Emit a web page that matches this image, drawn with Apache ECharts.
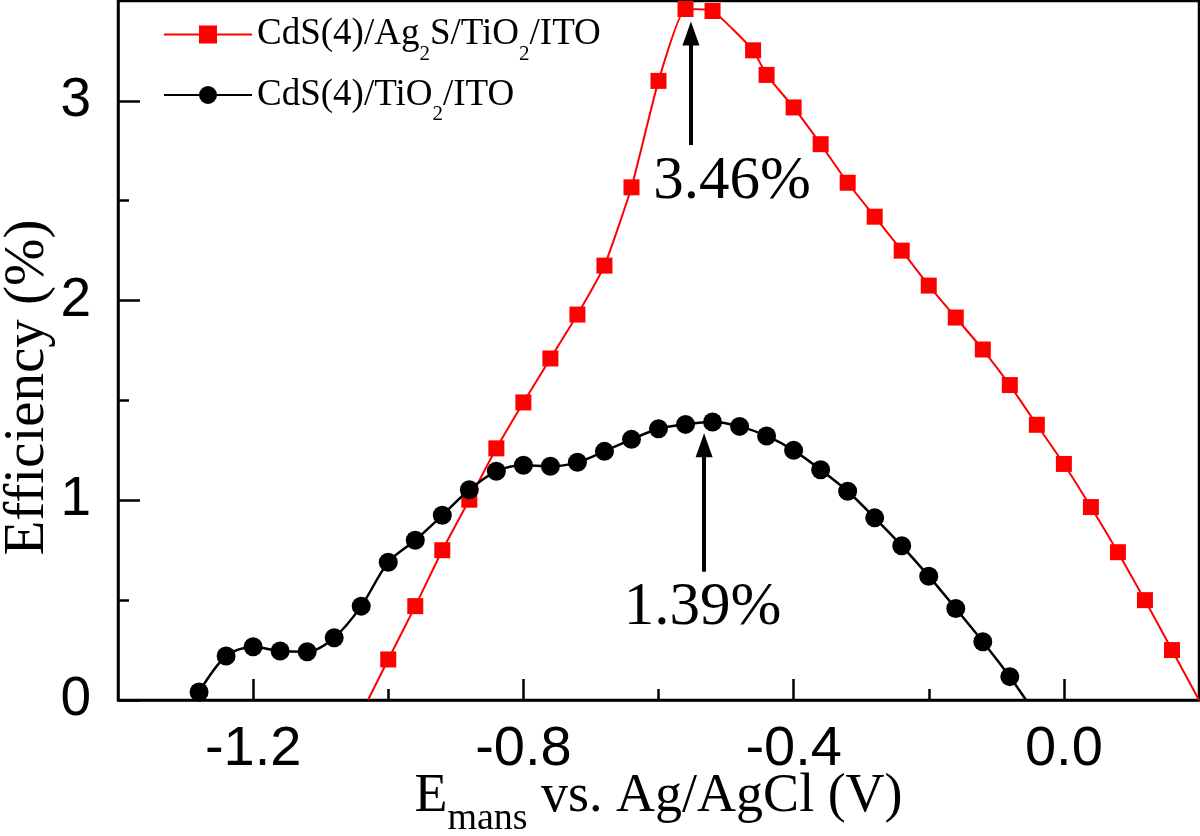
<!DOCTYPE html>
<html><head><meta charset="utf-8">
<script src="https://cdn.jsdelivr.net/npm/echarts@6/dist/echarts.min.js"></script>
<style>html,body{margin:0;padding:0;background:#fff}#c{width:1200px;height:836px}</style>
</head><body><div id="c"></div>
<script>
// ---- data ----
const seriesNames = ['CdS(4)/Ag2S/TiO2/ITO', 'CdS(4)/TiO2/ITO'];

const redX = [-1.00, -0.96, -0.92, -0.88, -0.84, -0.80, -0.76, -0.72, -0.68, -0.64, -0.60, -0.56, -0.52,
              -0.46, -0.44, -0.40, -0.36, -0.32, -0.28, -0.24, -0.20, -0.16, -0.12, -0.08, -0.04, 0.00, 0.04, 0.08, 0.12, 0.16];
const redY = [0.203, 0.47, 0.75, 1.003, 1.26, 1.49, 1.71, 1.93, 2.175, 2.567, 3.10, 3.46, 3.45,
              3.253, 3.13, 2.967, 2.783, 2.59, 2.42, 2.25, 2.075, 1.915, 1.755, 1.577, 1.378, 1.182, 0.966, 0.74, 0.50, 0.25];
// where the fitted red curve meets the x axis (no marker there)
const redLineStart = [-1.03, 0];
const redLineEnd = [0.2, 0];

const blackX = [-1.28, -1.24, -1.20, -1.16, -1.12, -1.08, -1.04, -1.00, -0.96, -0.92, -0.88, -0.84, -0.80, -0.76, -0.72, -0.68,
                -0.64, -0.60, -0.56, -0.52, -0.48, -0.44, -0.40, -0.36, -0.32, -0.28, -0.24, -0.20, -0.16, -0.12, -0.08];
const blackY = [0.04, 0.22, 0.267, 0.245, 0.242, 0.312, 0.47, 0.69, 0.80, 0.925, 1.053, 1.145, 1.175, 1.17, 1.19, 1.245,
                1.305, 1.358, 1.38, 1.392, 1.37, 1.322, 1.25, 1.153, 1.045, 0.912, 0.772, 0.62, 0.458, 0.292, 0.117];
const blackLineEnd = [-0.056, 0];

const xMajorTicks = [-1.2, -0.8, -0.4, 0.0];
const xTickLabels = ['-1.2', '-0.8', '-0.4', '0.0'];
const xMinorTicks = [-1.0, -0.6, -0.2];
const yMajorTicks = [0, 1, 2, 3];
const yTickLabels = ['0', '1', '2', '3'];
const yMinorTicks = [0.5, 1.5, 2.5];

const peakTexts = ['3.46%', '1.39%'];
const peakTextPos = [[-0.491, 2.594], [-0.535, 0.463]];
const arrowRed = [[-0.552, 2.779], [-0.552, 3.337]];
const arrowBlack = [[-0.5325, 0.6425], [-0.5325, 1.276]];

// ---- chart ----
const serif = 'Liberation Serif';
const sans = 'Liberation Sans';
const chart = echarts.init(document.getElementById('c'), null, {renderer: 'canvas'});

function pts(xs, ys) { return xs.map((x, i) => [x, ys[i]]); }
const redData = [{value: redLineStart, symbol: 'none'}].concat(pts(redX, redY), [{value: redLineEnd, symbol: 'none'}]);
const blackData = pts(blackX, blackY).concat([{value: blackLineEnd, symbol: 'none'}]);

function subRich(name) {
  return '{n|' + name.replace(/([A-Za-z])2/g, '$1}{s|2}{n|') + '}';
}
function textMark(text, pos) {
  return {
    silent: true, symbol: 'circle', symbolSize: 1, itemStyle: {color: 'rgba(0,0,0,0)'},
    label: {show: true, position: 'inside', formatter: text, fontFamily: serif, fontSize: 61, color: '#000'},
    data: [{coord: pos}]
  };
}
function arrowMark(a) {
  return {
    silent: true, symbol: ['none', 'triangle'], symbolSize: [17, 24],
    lineStyle: {color: '#000', width: 4, type: 'solid'}, itemStyle: {color: '#000'},
    label: {show: false}, emphasis: {disabled: true},
    data: [[{coord: a[0]}, {coord: a[1]}]]
  };
}

const axisLineStyle = {color: '#000', width: 2.5};
const option = {
  animation: false,
  backgroundColor: '#fff',
  grid: {left: 118, right: 1, top: 1, bottom: 136, outerBoundsMode: 'none', containLabel: false,
         show: true, borderColor: '#000', borderWidth: 2.5, backgroundColor: 'transparent'},
  legend: {
    data: seriesNames, orient: 'vertical', left: 163, top: 16, padding: 0,
    itemWidth: 88, itemHeight: 22.5, itemGap: 12,
    formatter: subRich,
    textStyle: {fontFamily: serif, fontSize: 37, color: '#000',
      rich: {
        n: {fontFamily: serif, fontSize: 37, color: '#000', lineHeight: 60},
        s: {fontFamily: serif, fontSize: 21, color: '#000', lineHeight: 21, verticalAlign: 'bottom'}
      }}
  },
  xAxis: [{
    type: 'value', min: -1.4, max: 0.2, interval: 0.2, position: 'bottom',
    axisLine: {show: true, onZero: false, lineStyle: axisLineStyle},
    axisTick: {show: true, inside: true, length: 21, lineStyle: axisLineStyle, customValues: xMajorTicks},
    axisLabel: {customValues: xMajorTicks, margin: 22, fontFamily: sans, fontSize: 56, color: '#000',
      formatter: v => xTickLabels[xMajorTicks.findIndex(t => Math.abs(t - v) < 1e-6)] ?? ''},
    splitLine: {show: false},
    name: '{n|E}{s|mans}{n| vs. Ag/AgCl (V)}', nameLocation: 'middle', nameGap: 56, nameMoveOverlap: false,
    nameTextStyle: {fontFamily: serif, fontSize: 54, color: '#000',
      rich: {
        n: {fontFamily: serif, fontSize: 54, color: '#000', lineHeight: 82},
        s: {fontFamily: serif, fontSize: 38, color: '#000', lineHeight: 38, verticalAlign: 'bottom'}
      }}
  }, {
    type: 'value', min: -1.4, max: 0.2, interval: 0.2, position: 'bottom',
    axisLine: {show: false, onZero: false},
    axisTick: {show: true, inside: true, length: 11, lineStyle: axisLineStyle, customValues: xMinorTicks},
    axisLabel: {show: false}, splitLine: {show: false}
  }],
  yAxis: [{
    type: 'value', min: 0, max: 3.5, interval: 0.5, position: 'left',
    axisLine: {show: true, onZero: false, lineStyle: axisLineStyle},
    axisTick: {show: true, inside: true, length: 22, lineStyle: axisLineStyle, customValues: yMajorTicks},
    axisLabel: {customValues: yMajorTicks, margin: 27, fontFamily: sans, fontSize: 55, color: '#000',
      formatter: v => yTickLabels[yMajorTicks.findIndex(t => Math.abs(t - v) < 1e-6)] ?? ''},
    splitLine: {show: false},
    name: 'Efficiency (%)', nameLocation: 'middle', nameGap: 61, nameMoveOverlap: false,
    nameTextStyle: {fontFamily: serif, fontSize: 57, color: '#000', padding: [0, 74, 0, 0]}
  }, {
    type: 'value', min: 0, max: 3.5, interval: 0.5, position: 'left',
    axisLine: {show: false, onZero: false},
    axisTick: {show: true, inside: true, length: 11, lineStyle: axisLineStyle, customValues: yMinorTicks},
    axisLabel: {show: false}, splitLine: {show: false}
  }],
  series: [{
    name: seriesNames[0], type: 'line', xAxisIndex: 0, yAxisIndex: 0,
    data: redData, smooth: 0.15, symbol: 'rect', symbolSize: 16,
    lineStyle: {color: '#ff0000', width: 2}, itemStyle: {color: '#ff0000'},
    markLine: arrowMark(arrowRed), markPoint: textMark(peakTexts[0], peakTextPos[0]),
    z: 2
  }, {
    name: seriesNames[1], type: 'line', xAxisIndex: 0, yAxisIndex: 0,
    data: blackData, smooth: 0.3, symbol: 'circle', symbolSize: 19,
    lineStyle: {color: '#000', width: 2.5}, itemStyle: {color: '#000'},
    markLine: arrowMark(arrowBlack), markPoint: textMark(peakTexts[1], peakTextPos[1]),
    z: 3
  }]
};
chart.setOption(option);
</script>
</body></html>
